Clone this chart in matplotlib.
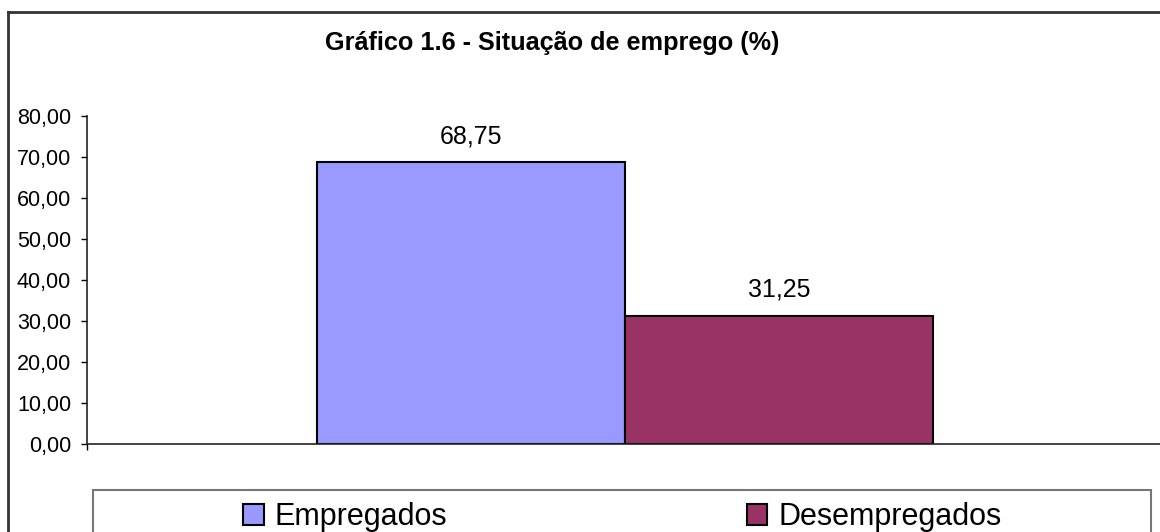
import matplotlib
matplotlib.use("Agg")
import matplotlib.pyplot as plt
from matplotlib.patches import Patch
from matplotlib.lines import Line2D

plt.rcParams['font.family'] = ['Liberation Sans', 'DejaVu Sans']

categories = ['Empregados', 'Desempregados']
values = [68.75, 31.25]
labels = ['68,75', '31,25']
colors = ['#9999FF', '#993366']
yticks = [0, 10, 20, 30, 40, 50, 60, 70, 80]

W, H = 1160, 532
fig = plt.figure(figsize=(W / 100, H / 100), dpi=100)

# plot area in pixel terms (Excel-like layout)
left, right, bottom, top = 87, 1163, 444, 116
ax = fig.add_axes([left / W, 1 - bottom / H, (right - left) / W, (bottom - top) / H])

xpos = [-0.5, 0.5]
ax.bar(xpos, values, width=1.0, color=colors, edgecolor='black', linewidth=1.5)
for x, v, lab in zip(xpos, values, labels):
    ax.annotate(lab, (x, v), xytext=(0, 19), textcoords='offset pixels',
                ha='center', va='baseline', fontsize=18)

half = (right - left) / 2 / 308
ax.set_xlim(-half, half)
ax.set_ylim(0, 80)
ax.set_yticks(yticks)
ax.set_yticklabels([f"{t:.2f}".replace('.', ',') for t in yticks], fontsize=15.5)
ax.set_xticks([-half])
ax.set_xticklabels([''])
ax.tick_params(axis='both', direction='out', length=4.5, width=1, color='black', pad=7)
for s in ['top', 'right']:
    ax.spines[s].set_visible(False)
for s in ['left', 'bottom']:
    ax.spines[s].set_color('#222222')
    ax.spines[s].set_linewidth(1.2)

# title
fig.text(552 / W, 1 - 50 / H, 'Gráfico 1.6 - Situação de emprego (%)',
         ha='center', va='baseline', fontsize=18.2, fontweight='bold')

# chart area border (cropped at right and bottom)
fig.add_artist(Line2D([8 / W, 8 / W], [1 - 12 / H, 0], transform=fig.transFigure,
                      color='#333333', linewidth=2))
fig.add_artist(Line2D([8 / W, 1], [1 - 12 / H, 1 - 12 / H], transform=fig.transFigure,
                      color='#333333', linewidth=2))

# legend box
fig.add_artist(plt.Rectangle((93 / W, -0.05), (1151 - 93) / W, 0.05 + (532 - 490) / H,
                             transform=fig.transFigure, fill=False,
                             edgecolor='#777777', linewidth=1.5))
handles = [Patch(facecolor=c, edgecolor='black', linewidth=1.5) for c in colors]
fig.legend(handles, categories, loc='center left', ncol=2,
           bbox_to_anchor=(243 / W, 1 - 517 / H), frameon=False,
           fontsize=22, handlelength=0.68, handleheight=0.68,
           handletextpad=0.35, columnspacing=9.8, borderpad=0, borderaxespad=0)

fig.savefig('out.png', dpi=100)
